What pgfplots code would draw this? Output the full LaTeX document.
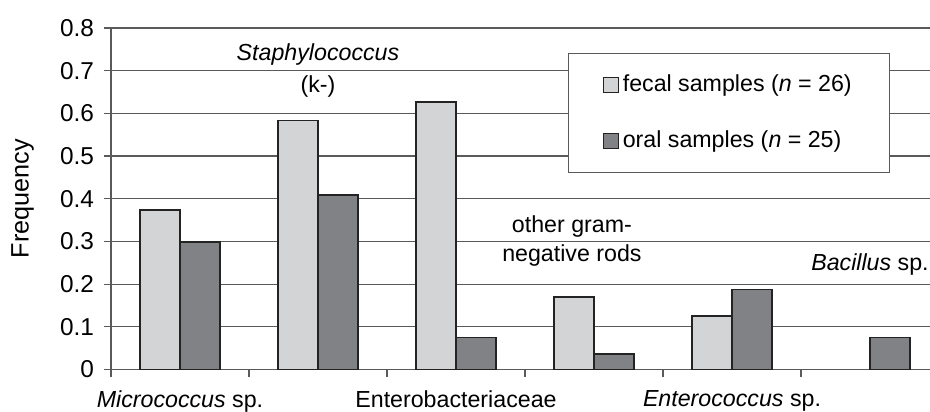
\documentclass[border=0pt]{standalone}
\usepackage{fontspec}
\setmainfont{Liberation Sans}
\usepackage{pgfplots}
\pgfplotsset{compat=1.18}
\definecolor{fecal}{RGB}{211,212,214}
\definecolor{oral}{RGB}{128,130,133}
\definecolor{gridc}{RGB}{90,90,90}
\definecolor{barline}{RGB}{35,35,35}
\newcommand{\fs}{\fontsize{11.6bp}{13.9bp}\selectfont}
\newcommand{\ts}{\fontsize{12.2bp}{14.4bp}\selectfont}
\begin{document}
\begin{tikzpicture}[font=\fs]
\begin{axis}[
  scale only axis, width=409.5bp, height=170.75bp,
  xmin=0, xmax=5.935, ymin=0, ymax=0.8,
  axis x line*=bottom, axis y line*=left,
  axis line style={gridc, line width=0.6bp},
  ytick={0,0.1,0.2,0.3,0.4,0.5,0.6,0.7,0.8},
  yticklabel style={/pgf/number format/fixed, /pgf/number format/precision=1, xshift=-1.5bp, font=\ts},
  /pgf/number format/assume math mode=true,
  ymajorgrids, grid style={gridc, line width=0.6bp},
  tick align=outside, major tick length=3.5bp, tick style={gridc, line width=0.6bp},
  xtick={0,1,2,3,4,5}, xticklabels={},
  extra x ticks={0.5,2.5,4.5},
  extra x tick labels={\textit{Micrococcus} sp., Enterobacteriaceae, \textit{Enterococcus} sp.},
  extra x tick style={major tick length=0pt, xticklabel style={yshift=-7bp, font=\fs}},
  ylabel={Frequency},
  ylabel style={at={(axis description cs:-0.108,0.5)}, anchor=center, font=\fontsize{12.6bp}{14bp}\selectfont},
  ybar=0pt, bar width=20bp,
  legend style={at={(rel axis cs:0.558,0.927)}, anchor=north west, draw=gridc, line width=0.6bp, fill=white,
    inner xsep=17bp, inner ysep=8.8bp, row sep=14bp, font=\fs, nodes={inner sep=2bp}},
  legend cell align=left,
  legend image code/.code={\draw[#1, line width=0.6bp] (0bp,-3.75bp) rectangle (7.5bp,3.75bp);},
]
\addplot[fill=fecal, draw=barline, line width=0.8bp] coordinates {(0.5,0.374) (1.5,0.583) (2.5,0.627) (3.5,0.170) (4.5,0.125)};
\addlegendentry{fecal samples (\textit{n} = 26)}
\addplot[fill=oral, draw=barline, line width=0.8bp] coordinates {(0.5,0.298) (1.5,0.409) (2.5,0.075) (3.5,0.036) (4.5,0.187) (5.5,0.075)};
\addlegendentry{oral samples (\textit{n} = 25)}
\node[font=\fs\itshape] at (axis cs:1.5,0.737) {Staphylococcus};
\node[font=\fs] at (axis cs:1.5,0.662) {(k-)};
\node[font=\fs] at (axis cs:3.34,0.336) {other gram-};
\node[font=\fs] at (axis cs:3.34,0.266) {negative rods};
\node[font=\fs] at (axis cs:5.5,0.245) {\textit{Bacillus} sp.};
\coordinate (SW) at (rel axis cs:0,0);
\coordinate (NE) at (rel axis cs:1,1);
\end{axis}
\pgfresetboundingbox
\path[use as bounding box] ([xshift=-55.5bp,yshift=-21.25bp]SW) rectangle ([yshift=14bp]NE);
\end{tikzpicture}
\end{document}
